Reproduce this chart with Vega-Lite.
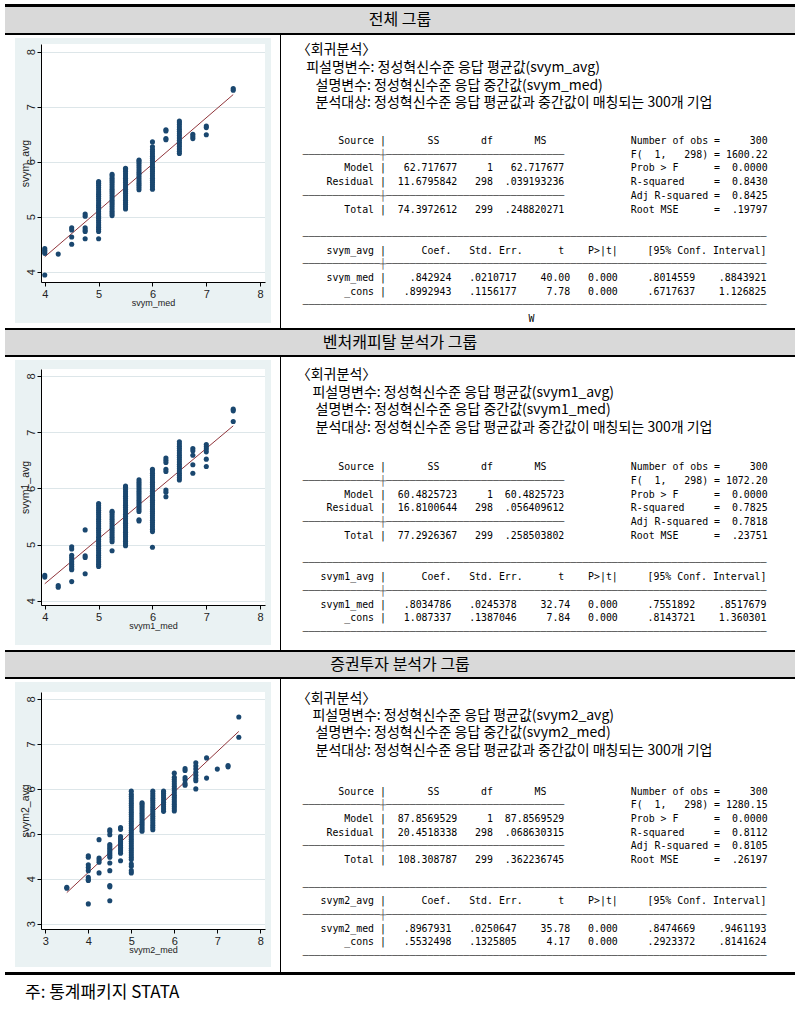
{
"$schema": "https://vega.github.io/schema/vega-lite/v6.json",
"background": "white",
"padding": {"left": 5, "top": 4, "right": 5, "bottom": 5},
"spacing": 0,
"title": {"text": "주: 통계패키지 STATA", "orient": "bottom", "anchor": "start", "offset": 10, "dx": 20, "font": "Noto Sans CJK KR", "fontSize": 17, "fontWeight": "normal", "color": "#000000"},
"config": {
  "view": {"stroke": null},
  "concat": {"spacing": 0},
  "axis": {"labelFont": "Liberation Sans", "titleFont": "Liberation Sans", "titleFontWeight": "normal", "domainColor": "#000000", "tickColor": "#000000", "labelColor": "#222222", "titleColor": "#222222", "labelFlush": false, "grid": false}
},
"datasets": {
  "pts": [
    {"s":1,"x":4,"y":4.42},{"s":1,"x":4,"y":4.39},{"s":1,"x":4,"y":4.36},{"s":1,"x":4,"y":4.33},{"s":1,"x":4,"y":3.94},
    {"s":1,"x":4.25,"y":4.32},
    {"s":1,"x":4.5,"y":4.80},{"s":1,"x":4.5,"y":4.76},{"s":1,"x":4.5,"y":4.63},{"s":1,"x":4.5,"y":4.50},
    {"s":1,"x":4.75,"y":5.05},{"s":1,"x":4.75,"y":5.01},{"s":1,"x":4.75,"y":4.80},{"s":1,"x":4.75,"y":4.76},{"s":1,"x":4.75,"y":4.73},{"s":1,"x":4.75,"y":4.60},
    {"s":1,"x":5,"y":4.60},{"s":1,"x":5,"y":4.73},{"s":1,"x":5,"y":4.77},{"s":1,"x":5,"y":4.81},{"s":1,"x":5,"y":4.85},{"s":1,"x":5,"y":4.89},{"s":1,"x":5,"y":4.93},{"s":1,"x":5,"y":4.97},{"s":1,"x":5,"y":5.01},{"s":1,"x":5,"y":5.05},{"s":1,"x":5,"y":5.09},{"s":1,"x":5,"y":5.13},{"s":1,"x":5,"y":5.17},{"s":1,"x":5,"y":5.21},{"s":1,"x":5,"y":5.25},{"s":1,"x":5,"y":5.29},{"s":1,"x":5,"y":5.33},{"s":1,"x":5,"y":5.37},{"s":1,"x":5,"y":5.41},{"s":1,"x":5,"y":5.45},{"s":1,"x":5,"y":5.49},{"s":1,"x":5,"y":5.53},{"s":1,"x":5,"y":5.57},{"s":1,"x":5,"y":5.61},{"s":1,"x":5,"y":5.64},
    {"s":1,"x":5.25,"y":5.02},{"s":1,"x":5.25,"y":5.06},{"s":1,"x":5.25,"y":5.10},{"s":1,"x":5.25,"y":5.14},{"s":1,"x":5.25,"y":5.18},{"s":1,"x":5.25,"y":5.22},{"s":1,"x":5.25,"y":5.26},{"s":1,"x":5.25,"y":5.30},{"s":1,"x":5.25,"y":5.34},{"s":1,"x":5.25,"y":5.38},{"s":1,"x":5.25,"y":5.42},{"s":1,"x":5.25,"y":5.46},{"s":1,"x":5.25,"y":5.50},{"s":1,"x":5.25,"y":5.54},{"s":1,"x":5.25,"y":5.58},{"s":1,"x":5.25,"y":5.62},{"s":1,"x":5.25,"y":5.66},{"s":1,"x":5.25,"y":5.70},{"s":1,"x":5.25,"y":5.74},{"s":1,"x":5.25,"y":5.77},
    {"s":1,"x":5.5,"y":5.14},{"s":1,"x":5.5,"y":5.18},{"s":1,"x":5.5,"y":5.22},{"s":1,"x":5.5,"y":5.26},{"s":1,"x":5.5,"y":5.30},{"s":1,"x":5.5,"y":5.34},{"s":1,"x":5.5,"y":5.38},{"s":1,"x":5.5,"y":5.42},{"s":1,"x":5.5,"y":5.46},{"s":1,"x":5.5,"y":5.50},{"s":1,"x":5.5,"y":5.54},{"s":1,"x":5.5,"y":5.58},{"s":1,"x":5.5,"y":5.62},{"s":1,"x":5.5,"y":5.66},{"s":1,"x":5.5,"y":5.70},{"s":1,"x":5.5,"y":5.74},{"s":1,"x":5.5,"y":5.78},{"s":1,"x":5.5,"y":5.82},{"s":1,"x":5.5,"y":5.86},{"s":1,"x":5.5,"y":5.88},
    {"s":1,"x":5.75,"y":5.49},{"s":1,"x":5.75,"y":5.53},{"s":1,"x":5.75,"y":5.57},{"s":1,"x":5.75,"y":5.61},{"s":1,"x":5.75,"y":5.65},{"s":1,"x":5.75,"y":5.69},{"s":1,"x":5.75,"y":5.73},{"s":1,"x":5.75,"y":5.77},{"s":1,"x":5.75,"y":5.81},{"s":1,"x":5.75,"y":5.85},{"s":1,"x":5.75,"y":5.89},{"s":1,"x":5.75,"y":5.93},{"s":1,"x":5.75,"y":5.97},{"s":1,"x":5.75,"y":6.01},{"s":1,"x":5.75,"y":6.03},
    {"s":1,"x":6,"y":5.50},{"s":1,"x":6,"y":5.54},{"s":1,"x":6,"y":5.58},{"s":1,"x":6,"y":5.62},{"s":1,"x":6,"y":5.66},{"s":1,"x":6,"y":5.70},{"s":1,"x":6,"y":5.74},{"s":1,"x":6,"y":5.78},{"s":1,"x":6,"y":5.82},{"s":1,"x":6,"y":5.86},{"s":1,"x":6,"y":5.90},{"s":1,"x":6,"y":5.94},{"s":1,"x":6,"y":5.98},{"s":1,"x":6,"y":6.02},{"s":1,"x":6,"y":6.06},{"s":1,"x":6,"y":6.10},{"s":1,"x":6,"y":6.14},{"s":1,"x":6,"y":6.18},{"s":1,"x":6,"y":6.22},{"s":1,"x":6,"y":6.27},{"s":1,"x":6,"y":6.36},
    {"s":1,"x":6.25,"y":6.58},{"s":1,"x":6.25,"y":6.56},{"s":1,"x":6.25,"y":6.42},{"s":1,"x":6.25,"y":6.40},
    {"s":1,"x":6.5,"y":6.15},{"s":1,"x":6.5,"y":6.19},{"s":1,"x":6.5,"y":6.23},{"s":1,"x":6.5,"y":6.27},{"s":1,"x":6.5,"y":6.31},{"s":1,"x":6.5,"y":6.35},{"s":1,"x":6.5,"y":6.39},{"s":1,"x":6.5,"y":6.43},{"s":1,"x":6.5,"y":6.47},{"s":1,"x":6.5,"y":6.51},{"s":1,"x":6.5,"y":6.55},{"s":1,"x":6.5,"y":6.59},{"s":1,"x":6.5,"y":6.63},{"s":1,"x":6.5,"y":6.67},{"s":1,"x":6.5,"y":6.71},{"s":1,"x":6.5,"y":6.74},
    {"s":1,"x":6.75,"y":6.50},{"s":1,"x":6.75,"y":6.46},{"s":1,"x":6.75,"y":6.42},
    {"s":1,"x":7,"y":6.65},{"s":1,"x":7,"y":6.62},{"s":1,"x":7,"y":6.49},
    {"s":1,"x":7.5,"y":7.33},{"s":1,"x":7.5,"y":7.30},

    {"s":2,"x":4,"y":4.45},{"s":2,"x":4,"y":4.42},
    {"s":2,"x":4.25,"y":4.27},{"s":2,"x":4.25,"y":4.24},
    {"s":2,"x":4.5,"y":4.96},{"s":2,"x":4.5,"y":4.92},{"s":2,"x":4.5,"y":4.81},{"s":2,"x":4.5,"y":4.77},{"s":2,"x":4.5,"y":4.73},{"s":2,"x":4.5,"y":4.69},{"s":2,"x":4.5,"y":4.65},{"s":2,"x":4.5,"y":4.61},{"s":2,"x":4.5,"y":4.57},{"s":2,"x":4.5,"y":4.55},{"s":2,"x":4.5,"y":4.34},
    {"s":2,"x":4.75,"y":5.26},{"s":2,"x":4.75,"y":4.80},{"s":2,"x":4.75,"y":4.77},{"s":2,"x":4.75,"y":4.48},
    {"s":2,"x":5,"y":4.61},{"s":2,"x":5,"y":4.65},{"s":2,"x":5,"y":4.69},{"s":2,"x":5,"y":4.73},{"s":2,"x":5,"y":4.77},{"s":2,"x":5,"y":4.81},{"s":2,"x":5,"y":4.85},{"s":2,"x":5,"y":4.89},{"s":2,"x":5,"y":4.93},{"s":2,"x":5,"y":4.97},{"s":2,"x":5,"y":5.01},{"s":2,"x":5,"y":5.05},{"s":2,"x":5,"y":5.09},{"s":2,"x":5,"y":5.13},{"s":2,"x":5,"y":5.17},{"s":2,"x":5,"y":5.21},{"s":2,"x":5,"y":5.25},{"s":2,"x":5,"y":5.29},{"s":2,"x":5,"y":5.33},{"s":2,"x":5,"y":5.37},{"s":2,"x":5,"y":5.41},{"s":2,"x":5,"y":5.45},{"s":2,"x":5,"y":5.49},{"s":2,"x":5,"y":5.53},{"s":2,"x":5,"y":5.57},{"s":2,"x":5,"y":5.61},{"s":2,"x":5,"y":5.65},{"s":2,"x":5,"y":5.69},{"s":2,"x":5,"y":5.73},
    {"s":2,"x":5.25,"y":4.89},{"s":2,"x":5.25,"y":5.05},{"s":2,"x":5.25,"y":5.09},{"s":2,"x":5.25,"y":5.13},{"s":2,"x":5.25,"y":5.17},{"s":2,"x":5.25,"y":5.21},{"s":2,"x":5.25,"y":5.25},{"s":2,"x":5.25,"y":5.29},{"s":2,"x":5.25,"y":5.33},{"s":2,"x":5.25,"y":5.37},{"s":2,"x":5.25,"y":5.41},{"s":2,"x":5.25,"y":5.45},{"s":2,"x":5.25,"y":5.49},{"s":2,"x":5.25,"y":5.53},{"s":2,"x":5.25,"y":5.57},{"s":2,"x":5.25,"y":5.59},
    {"s":2,"x":5.5,"y":4.98},{"s":2,"x":5.5,"y":5.02},{"s":2,"x":5.5,"y":5.06},{"s":2,"x":5.5,"y":5.10},{"s":2,"x":5.5,"y":5.14},{"s":2,"x":5.5,"y":5.18},{"s":2,"x":5.5,"y":5.22},{"s":2,"x":5.5,"y":5.26},{"s":2,"x":5.5,"y":5.30},{"s":2,"x":5.5,"y":5.34},{"s":2,"x":5.5,"y":5.38},{"s":2,"x":5.5,"y":5.42},{"s":2,"x":5.5,"y":5.46},{"s":2,"x":5.5,"y":5.50},{"s":2,"x":5.5,"y":5.54},{"s":2,"x":5.5,"y":5.58},{"s":2,"x":5.5,"y":5.62},{"s":2,"x":5.5,"y":5.66},{"s":2,"x":5.5,"y":5.70},{"s":2,"x":5.5,"y":5.74},{"s":2,"x":5.5,"y":5.78},{"s":2,"x":5.5,"y":5.82},{"s":2,"x":5.5,"y":5.86},{"s":2,"x":5.5,"y":5.90},{"s":2,"x":5.5,"y":5.94},{"s":2,"x":5.5,"y":5.98},{"s":2,"x":5.5,"y":6.02},{"s":2,"x":5.5,"y":6.04},
    {"s":2,"x":5.75,"y":5.42},{"s":2,"x":5.75,"y":5.44},{"s":2,"x":5.75,"y":5.59},{"s":2,"x":5.75,"y":5.63},{"s":2,"x":5.75,"y":5.67},{"s":2,"x":5.75,"y":5.71},{"s":2,"x":5.75,"y":5.75},{"s":2,"x":5.75,"y":5.79},{"s":2,"x":5.75,"y":5.83},{"s":2,"x":5.75,"y":5.87},{"s":2,"x":5.75,"y":5.91},{"s":2,"x":5.75,"y":5.95},{"s":2,"x":5.75,"y":5.99},{"s":2,"x":5.75,"y":6.03},{"s":2,"x":5.75,"y":6.07},{"s":2,"x":5.75,"y":6.11},{"s":2,"x":5.75,"y":6.15},
    {"s":2,"x":6,"y":4.95},{"s":2,"x":6,"y":5.23},{"s":2,"x":6,"y":5.27},{"s":2,"x":6,"y":5.31},{"s":2,"x":6,"y":5.35},{"s":2,"x":6,"y":5.39},{"s":2,"x":6,"y":5.43},{"s":2,"x":6,"y":5.47},{"s":2,"x":6,"y":5.51},{"s":2,"x":6,"y":5.55},{"s":2,"x":6,"y":5.59},{"s":2,"x":6,"y":5.63},{"s":2,"x":6,"y":5.67},{"s":2,"x":6,"y":5.71},{"s":2,"x":6,"y":5.75},{"s":2,"x":6,"y":5.79},{"s":2,"x":6,"y":5.83},{"s":2,"x":6,"y":5.87},{"s":2,"x":6,"y":5.91},{"s":2,"x":6,"y":5.95},{"s":2,"x":6,"y":5.99},{"s":2,"x":6,"y":6.03},{"s":2,"x":6,"y":6.07},{"s":2,"x":6,"y":6.11},{"s":2,"x":6,"y":6.15},{"s":2,"x":6,"y":6.19},{"s":2,"x":6,"y":6.23},{"s":2,"x":6,"y":6.27},{"s":2,"x":6,"y":6.31},{"s":2,"x":6,"y":6.34},
    {"s":2,"x":6.25,"y":6.54},{"s":2,"x":6.25,"y":6.50},{"s":2,"x":6.25,"y":6.46},{"s":2,"x":6.25,"y":6.34},{"s":2,"x":6.25,"y":6.30},{"s":2,"x":6.25,"y":5.97},{"s":2,"x":6.25,"y":5.93},{"s":2,"x":6.25,"y":5.85},
    {"s":2,"x":6.5,"y":6.15},{"s":2,"x":6.5,"y":6.19},{"s":2,"x":6.5,"y":6.23},{"s":2,"x":6.5,"y":6.27},{"s":2,"x":6.5,"y":6.31},{"s":2,"x":6.5,"y":6.35},{"s":2,"x":6.5,"y":6.39},{"s":2,"x":6.5,"y":6.43},{"s":2,"x":6.5,"y":6.47},{"s":2,"x":6.5,"y":6.51},{"s":2,"x":6.5,"y":6.55},{"s":2,"x":6.5,"y":6.59},{"s":2,"x":6.5,"y":6.63},{"s":2,"x":6.5,"y":6.67},{"s":2,"x":6.5,"y":6.71},{"s":2,"x":6.5,"y":6.75},{"s":2,"x":6.5,"y":6.79},{"s":2,"x":6.5,"y":6.83},
    {"s":2,"x":6.75,"y":6.71},{"s":2,"x":6.75,"y":6.67},{"s":2,"x":6.75,"y":6.59},{"s":2,"x":6.75,"y":6.42},{"s":2,"x":6.75,"y":6.27},
    {"s":2,"x":7,"y":6.78},{"s":2,"x":7,"y":6.74},{"s":2,"x":7,"y":6.70},{"s":2,"x":7,"y":6.65},{"s":2,"x":7,"y":6.52},{"s":2,"x":7,"y":6.39},
    {"s":2,"x":7.5,"y":7.41},{"s":2,"x":7.5,"y":7.38},{"s":2,"x":7.5,"y":7.19},

    {"s":3,"x":3.5,"y":3.81},{"s":3,"x":3.5,"y":3.79},
    {"s":3,"x":4,"y":4.51},{"s":3,"x":4,"y":4.48},{"s":3,"x":4,"y":4.31},{"s":3,"x":4,"y":4.25},{"s":3,"x":4,"y":4.18},{"s":3,"x":4,"y":4.03},{"s":3,"x":4,"y":3.98},{"s":3,"x":4,"y":3.96},{"s":3,"x":4,"y":3.44},
    {"s":3,"x":4.25,"y":4.87},{"s":3,"x":4.25,"y":4.46},{"s":3,"x":4.25,"y":4.42},{"s":3,"x":4.25,"y":4.37},{"s":3,"x":4.25,"y":4.13},
    {"s":3,"x":4.5,"y":5.09},{"s":3,"x":4.5,"y":5.05},{"s":3,"x":4.5,"y":4.98},{"s":3,"x":4.5,"y":4.76},{"s":3,"x":4.5,"y":4.72},{"s":3,"x":4.5,"y":4.68},{"s":3,"x":4.5,"y":4.64},{"s":3,"x":4.5,"y":4.60},{"s":3,"x":4.5,"y":4.56},{"s":3,"x":4.5,"y":4.52},{"s":3,"x":4.5,"y":4.48},{"s":3,"x":4.5,"y":4.35},{"s":3,"x":4.5,"y":4.18},{"s":3,"x":4.5,"y":3.85},{"s":3,"x":4.5,"y":3.82},{"s":3,"x":4.5,"y":3.51},
    {"s":3,"x":4.75,"y":5.14},{"s":3,"x":4.75,"y":5.10},{"s":3,"x":4.75,"y":4.94},{"s":3,"x":4.75,"y":4.90},{"s":3,"x":4.75,"y":4.86},{"s":3,"x":4.75,"y":4.82},{"s":3,"x":4.75,"y":4.78},{"s":3,"x":4.75,"y":4.74},{"s":3,"x":4.75,"y":4.70},{"s":3,"x":4.75,"y":4.66},{"s":3,"x":4.75,"y":4.62},{"s":3,"x":4.75,"y":4.57},{"s":3,"x":4.75,"y":4.40},
    {"s":3,"x":5,"y":4.13},{"s":3,"x":5,"y":4.18},{"s":3,"x":5,"y":4.28},{"s":3,"x":5,"y":4.33},{"s":3,"x":5,"y":4.43},{"s":3,"x":5,"y":4.48},{"s":3,"x":5,"y":4.53},{"s":3,"x":5,"y":4.58},{"s":3,"x":5,"y":4.63},{"s":3,"x":5,"y":4.68},{"s":3,"x":5,"y":4.73},{"s":3,"x":5,"y":4.78},{"s":3,"x":5,"y":4.83},{"s":3,"x":5,"y":4.88},{"s":3,"x":5,"y":4.93},{"s":3,"x":5,"y":4.98},{"s":3,"x":5,"y":5.03},{"s":3,"x":5,"y":5.08},{"s":3,"x":5,"y":5.13},{"s":3,"x":5,"y":5.18},{"s":3,"x":5,"y":5.23},{"s":3,"x":5,"y":5.28},{"s":3,"x":5,"y":5.33},{"s":3,"x":5,"y":5.38},{"s":3,"x":5,"y":5.43},{"s":3,"x":5,"y":5.48},{"s":3,"x":5,"y":5.53},{"s":3,"x":5,"y":5.58},{"s":3,"x":5,"y":5.63},{"s":3,"x":5,"y":5.68},{"s":3,"x":5,"y":5.73},{"s":3,"x":5,"y":5.78},{"s":3,"x":5,"y":5.83},{"s":3,"x":5,"y":5.88},{"s":3,"x":5,"y":5.95},
    {"s":3,"x":5.25,"y":5.06},{"s":3,"x":5.25,"y":5.11},{"s":3,"x":5.25,"y":5.16},{"s":3,"x":5.25,"y":5.21},{"s":3,"x":5.25,"y":5.26},{"s":3,"x":5.25,"y":5.31},{"s":3,"x":5.25,"y":5.36},{"s":3,"x":5.25,"y":5.41},{"s":3,"x":5.25,"y":5.46},{"s":3,"x":5.25,"y":5.51},{"s":3,"x":5.25,"y":5.56},{"s":3,"x":5.25,"y":5.61},{"s":3,"x":5.25,"y":5.66},{"s":3,"x":5.25,"y":5.69},
    {"s":3,"x":5.5,"y":5.09},{"s":3,"x":5.5,"y":5.14},{"s":3,"x":5.5,"y":5.19},{"s":3,"x":5.5,"y":5.24},{"s":3,"x":5.5,"y":5.29},{"s":3,"x":5.5,"y":5.34},{"s":3,"x":5.5,"y":5.39},{"s":3,"x":5.5,"y":5.44},{"s":3,"x":5.5,"y":5.49},{"s":3,"x":5.5,"y":5.54},{"s":3,"x":5.5,"y":5.59},{"s":3,"x":5.5,"y":5.64},{"s":3,"x":5.5,"y":5.69},{"s":3,"x":5.5,"y":5.74},{"s":3,"x":5.5,"y":5.79},{"s":3,"x":5.5,"y":5.84},{"s":3,"x":5.5,"y":5.89},{"s":3,"x":5.5,"y":5.95},
    {"s":3,"x":5.75,"y":5.50},{"s":3,"x":5.75,"y":5.55},{"s":3,"x":5.75,"y":5.60},{"s":3,"x":5.75,"y":5.65},{"s":3,"x":5.75,"y":5.70},{"s":3,"x":5.75,"y":5.75},{"s":3,"x":5.75,"y":5.80},{"s":3,"x":5.75,"y":5.85},{"s":3,"x":5.75,"y":5.90},{"s":3,"x":5.75,"y":5.95},
    {"s":3,"x":6,"y":5.51},{"s":3,"x":6,"y":5.56},{"s":3,"x":6,"y":5.61},{"s":3,"x":6,"y":5.66},{"s":3,"x":6,"y":5.71},{"s":3,"x":6,"y":5.76},{"s":3,"x":6,"y":5.81},{"s":3,"x":6,"y":5.86},{"s":3,"x":6,"y":5.91},{"s":3,"x":6,"y":5.96},{"s":3,"x":6,"y":6.01},{"s":3,"x":6,"y":6.06},{"s":3,"x":6,"y":6.11},{"s":3,"x":6,"y":6.16},{"s":3,"x":6,"y":6.21},{"s":3,"x":6,"y":6.26},{"s":3,"x":6,"y":6.35},
    {"s":3,"x":6.25,"y":6.08},{"s":3,"x":6.25,"y":6.12},{"s":3,"x":6.25,"y":6.20},{"s":3,"x":6.25,"y":6.25},{"s":3,"x":6.25,"y":6.41},{"s":3,"x":6.25,"y":6.45},
    {"s":3,"x":6.5,"y":6.00},{"s":3,"x":6.5,"y":6.18},{"s":3,"x":6.5,"y":6.23},{"s":3,"x":6.5,"y":6.30},{"s":3,"x":6.5,"y":6.37},{"s":3,"x":6.5,"y":6.44},{"s":3,"x":6.5,"y":6.51},{"s":3,"x":6.5,"y":6.58},
    {"s":3,"x":6.75,"y":6.69},{"s":3,"x":6.75,"y":6.24},
    {"s":3,"x":7,"y":6.44},
    {"s":3,"x":7.25,"y":6.49},{"s":3,"x":7.25,"y":6.52},
    {"s":3,"x":7.5,"y":7.60},{"s":3,"x":7.5,"y":7.15}
  ],
  "fit": [
    {"s":1,"x":4,"y":4.271},{"s":1,"x":7.5,"y":7.221},
    {"s":2,"x":4,"y":4.301},{"s":2,"x":7.5,"y":7.113},
    {"s":3,"x":3.5,"y":3.692},{"s":3,"x":7.5,"y":7.279}
  ],
  "kor": [
    {"s":1,"line":0,"t":"〈회귀분석〉"},
    {"s":1,"line":1,"t":"\u200b\u00a0\u00a0\u00a0피설명변수: 정성혁신수준 응답 평균값(svym_avg)"},
    {"s":1,"line":2,"t":"\u200b\u00a0\u00a0\u00a0\u00a0\u00a0\u00a0설명변수: 정성혁신수준 응답 중간값(svym_med)"},
    {"s":1,"line":3,"t":"\u200b\u00a0\u00a0\u00a0\u00a0\u00a0\u00a0분석대상: 정성혁신수준 응답 평균값과 중간값이 매칭되는 300개 기업"},
    {"s":2,"line":0,"t":"〈회귀분석〉"},
    {"s":2,"line":1,"t":"\u200b\u00a0\u00a0\u00a0\u00a0\u00a0피설명변수: 정성혁신수준 응답 평균값(svym1_avg)"},
    {"s":2,"line":2,"t":"\u200b\u00a0\u00a0\u00a0\u00a0\u00a0\u00a0설명변수: 정성혁신수준 응답 중간값(svym1_med)"},
    {"s":2,"line":3,"t":"\u200b\u00a0\u00a0\u00a0\u00a0\u00a0\u00a0분석대상: 정성혁신수준 응답 평균값과 중간값이 매칭되는 300개 기업"},
    {"s":3,"line":0,"t":"〈회귀분석〉"},
    {"s":3,"line":1,"t":"\u200b\u00a0\u00a0\u00a0\u00a0\u00a0피설명변수: 정성혁신수준 응답 평균값(svym2_avg)"},
    {"s":3,"line":2,"t":"\u200b\u00a0\u00a0\u00a0\u00a0\u00a0\u00a0설명변수: 정성혁신수준 응답 중간값(svym2_med)"},
    {"s":3,"line":3,"t":"\u200b\u00a0\u00a0\u00a0\u00a0\u00a0\u00a0분석대상: 정성혁신수준 응답 평균값과 중간값이 매칭되는 300개 기업"}
  ],
  "stata": [
    {"s":1,"line":0,"t":"\u200b\u00a0\u00a0\u00a0\u00a0\u00a0\u00a0Source |\u00a0\u00a0\u00a0\u00a0\u00a0\u00a0\u00a0SS\u00a0\u00a0\u00a0\u00a0\u00a0\u00a0\u00a0df\u00a0\u00a0\u00a0\u00a0\u00a0\u00a0\u00a0MS"},
    {"s":1,"line":2,"t":"\u200b\u00a0\u00a0\u00a0\u00a0\u00a0\u00a0\u00a0Model |\u00a0\u00a0\u00a062.717677\u00a0\u00a0\u00a0\u00a0\u00a01\u00a0\u00a0\u00a062.717677"},
    {"s":1,"line":3,"t":"\u200b\u00a0\u00a0\u00a0\u00a0Residual |\u00a0\u00a011.6795842\u00a0\u00a0\u00a0298\u00a0\u00a0.039193236"},
    {"s":1,"line":5,"t":"\u200b\u00a0\u00a0\u00a0\u00a0\u00a0\u00a0\u00a0Total |\u00a0\u00a074.3972612\u00a0\u00a0\u00a0299\u00a0\u00a0.248820271"},
    {"s":1,"line":8,"t":"\u200b\u00a0\u00a0\u00a0\u00a0svym_avg |\u00a0\u00a0\u00a0\u00a0\u00a0\u00a0Coef.\u00a0\u00a0\u00a0Std. Err.\u00a0\u00a0\u00a0\u00a0\u00a0\u00a0t\u00a0\u00a0\u00a0\u00a0P>|t|\u00a0\u00a0\u00a0\u00a0\u00a0[95% Conf. Interval]"},
    {"s":1,"line":10,"t":"\u200b\u00a0\u00a0\u00a0\u00a0svym_med |\u00a0\u00a0\u00a0\u00a0.842924\u00a0\u00a0\u00a0.0210717\u00a0\u00a0\u00a0\u00a040.00\u00a0\u00a0\u00a00.000\u00a0\u00a0\u00a0\u00a0\u00a0.8014559\u00a0\u00a0\u00a0\u00a0.8843921"},
    {"s":1,"line":11,"t":"\u200b\u00a0\u00a0\u00a0\u00a0\u00a0\u00a0\u00a0_cons |\u00a0\u00a0\u00a0.8992943\u00a0\u00a0\u00a0.1156177\u00a0\u00a0\u00a0\u00a0\u00a07.78\u00a0\u00a0\u00a00.000\u00a0\u00a0\u00a0\u00a0\u00a0.6717637\u00a0\u00a0\u00a0\u00a01.126825"},
    {"s":1,"line":13,"t":"\u200b\u00a0\u00a0\u00a0\u00a0\u00a0\u00a0\u00a0\u00a0\u00a0\u00a0\u00a0\u00a0\u00a0\u00a0\u00a0\u00a0\u00a0\u00a0\u00a0\u00a0\u00a0\u00a0\u00a0\u00a0\u00a0\u00a0\u00a0\u00a0\u00a0\u00a0\u00a0\u00a0\u00a0\u00a0\u00a0\u00a0\u00a0\u00a0W"},
    {"s":2,"line":0,"t":"\u200b\u00a0\u00a0\u00a0\u00a0\u00a0\u00a0Source |\u00a0\u00a0\u00a0\u00a0\u00a0\u00a0\u00a0SS\u00a0\u00a0\u00a0\u00a0\u00a0\u00a0\u00a0df\u00a0\u00a0\u00a0\u00a0\u00a0\u00a0\u00a0MS"},
    {"s":2,"line":2,"t":"\u200b\u00a0\u00a0\u00a0\u00a0\u00a0\u00a0\u00a0Model |\u00a0\u00a060.4825723\u00a0\u00a0\u00a0\u00a0\u00a01\u00a0\u00a060.4825723"},
    {"s":2,"line":3,"t":"\u200b\u00a0\u00a0\u00a0\u00a0Residual |\u00a0\u00a016.8100644\u00a0\u00a0\u00a0298\u00a0\u00a0.056409612"},
    {"s":2,"line":5,"t":"\u200b\u00a0\u00a0\u00a0\u00a0\u00a0\u00a0\u00a0Total |\u00a0\u00a077.2926367\u00a0\u00a0\u00a0299\u00a0\u00a0.258503802"},
    {"s":2,"line":8,"t":"\u200b\u00a0\u00a0\u00a0svym1_avg |\u00a0\u00a0\u00a0\u00a0\u00a0\u00a0Coef.\u00a0\u00a0\u00a0Std. Err.\u00a0\u00a0\u00a0\u00a0\u00a0\u00a0t\u00a0\u00a0\u00a0\u00a0P>|t|\u00a0\u00a0\u00a0\u00a0\u00a0[95% Conf. Interval]"},
    {"s":2,"line":10,"t":"\u200b\u00a0\u00a0\u00a0svym1_med |\u00a0\u00a0\u00a0.8034786\u00a0\u00a0\u00a0.0245378\u00a0\u00a0\u00a0\u00a032.74\u00a0\u00a0\u00a00.000\u00a0\u00a0\u00a0\u00a0\u00a0.7551892\u00a0\u00a0\u00a0\u00a0.8517679"},
    {"s":2,"line":11,"t":"\u200b\u00a0\u00a0\u00a0\u00a0\u00a0\u00a0\u00a0_cons |\u00a0\u00a0\u00a01.087337\u00a0\u00a0\u00a0.1387046\u00a0\u00a0\u00a0\u00a0\u00a07.84\u00a0\u00a0\u00a00.000\u00a0\u00a0\u00a0\u00a0\u00a0.8143721\u00a0\u00a0\u00a0\u00a01.360301"},
    {"s":3,"line":0,"t":"\u200b\u00a0\u00a0\u00a0\u00a0\u00a0\u00a0Source |\u00a0\u00a0\u00a0\u00a0\u00a0\u00a0\u00a0SS\u00a0\u00a0\u00a0\u00a0\u00a0\u00a0\u00a0df\u00a0\u00a0\u00a0\u00a0\u00a0\u00a0\u00a0MS"},
    {"s":3,"line":2,"t":"\u200b\u00a0\u00a0\u00a0\u00a0\u00a0\u00a0\u00a0Model |\u00a0\u00a087.8569529\u00a0\u00a0\u00a0\u00a0\u00a01\u00a0\u00a087.8569529"},
    {"s":3,"line":3,"t":"\u200b\u00a0\u00a0\u00a0\u00a0Residual |\u00a0\u00a020.4518338\u00a0\u00a0\u00a0298\u00a0\u00a0.068630315"},
    {"s":3,"line":5,"t":"\u200b\u00a0\u00a0\u00a0\u00a0\u00a0\u00a0\u00a0Total |\u00a0\u00a0108.308787\u00a0\u00a0\u00a0299\u00a0\u00a0.362236745"},
    {"s":3,"line":8,"t":"\u200b\u00a0\u00a0\u00a0svym2_avg |\u00a0\u00a0\u00a0\u00a0\u00a0\u00a0Coef.\u00a0\u00a0\u00a0Std. Err.\u00a0\u00a0\u00a0\u00a0\u00a0\u00a0t\u00a0\u00a0\u00a0\u00a0P>|t|\u00a0\u00a0\u00a0\u00a0\u00a0[95% Conf. Interval]"},
    {"s":3,"line":10,"t":"\u200b\u00a0\u00a0\u00a0svym2_med |\u00a0\u00a0\u00a0.8967931\u00a0\u00a0\u00a0.0250647\u00a0\u00a0\u00a0\u00a035.78\u00a0\u00a0\u00a00.000\u00a0\u00a0\u00a0\u00a0\u00a0.8474669\u00a0\u00a0\u00a0\u00a0.9461193"},
    {"s":3,"line":11,"t":"\u200b\u00a0\u00a0\u00a0\u00a0\u00a0\u00a0\u00a0_cons |\u00a0\u00a0\u00a0.5532498\u00a0\u00a0\u00a0.1325805\u00a0\u00a0\u00a0\u00a0\u00a04.17\u00a0\u00a0\u00a00.000\u00a0\u00a0\u00a0\u00a0\u00a0.2923372\u00a0\u00a0\u00a0\u00a0.8141624"}
  ],
  "stats": [
    {"s":1,"line":0,"t":"Number of obs =\u00a0\u00a0\u00a0\u00a0\u00a0300"},
    {"s":1,"line":1,"t":"F(\u00a0\u00a01,\u00a0\u00a0\u00a0298) = 1600.22"},
    {"s":1,"line":2,"t":"Prob > F\u00a0\u00a0\u00a0\u00a0\u00a0\u00a0=\u00a0\u00a00.0000"},
    {"s":1,"line":3,"t":"R-squared\u00a0\u00a0\u00a0\u00a0\u00a0=\u00a0\u00a00.8430"},
    {"s":1,"line":4,"t":"Adj R-squared =\u00a0\u00a00.8425"},
    {"s":1,"line":5,"t":"Root MSE\u00a0\u00a0\u00a0\u00a0\u00a0\u00a0=\u00a0\u00a0.19797"},
    {"s":2,"line":0,"t":"Number of obs =\u00a0\u00a0\u00a0\u00a0\u00a0300"},
    {"s":2,"line":1,"t":"F(\u00a0\u00a01,\u00a0\u00a0\u00a0298) = 1072.20"},
    {"s":2,"line":2,"t":"Prob > F\u00a0\u00a0\u00a0\u00a0\u00a0\u00a0=\u00a0\u00a00.0000"},
    {"s":2,"line":3,"t":"R-squared\u00a0\u00a0\u00a0\u00a0\u00a0=\u00a0\u00a00.7825"},
    {"s":2,"line":4,"t":"Adj R-squared =\u00a0\u00a00.7818"},
    {"s":2,"line":5,"t":"Root MSE\u00a0\u00a0\u00a0\u00a0\u00a0\u00a0=\u00a0\u00a0.23751"},
    {"s":3,"line":0,"t":"Number of obs =\u00a0\u00a0\u00a0\u00a0\u00a0300"},
    {"s":3,"line":1,"t":"F(\u00a0\u00a01,\u00a0\u00a0\u00a0298) = 1280.15"},
    {"s":3,"line":2,"t":"Prob > F\u00a0\u00a0\u00a0\u00a0\u00a0\u00a0=\u00a0\u00a00.0000"},
    {"s":3,"line":3,"t":"R-squared\u00a0\u00a0\u00a0\u00a0\u00a0=\u00a0\u00a00.8112"},
    {"s":3,"line":4,"t":"Adj R-squared =\u00a0\u00a00.8105"},
    {"s":3,"line":5,"t":"Root MSE\u00a0\u00a0\u00a0\u00a0\u00a0\u00a0=\u00a0\u00a0.26197"}
  ],
  "seps": [
    {"line":1,"t":"─────────────┼──────────────────────────────"},
    {"line":4,"t":"─────────────┼──────────────────────────────"},
    {"line":7,"t":"──────────────────────────────────────────────────────────────────────────────"},
    {"line":9,"t":"─────────────┼────────────────────────────────────────────────────────────────"},
    {"line":12,"t":"──────────────────────────────────────────────────────────────────────────────"}
  ]
},
"vconcat": [
  {"width": 790, "height": 3, "view": {"fill": "#000000", "stroke": null}, "data": {"values": [{"t": ""}]}, "mark": {"type": "text", "fontSize": 0}, "encoding": {"text": {"field": "t"}}},
  {"width": 790, "height": 26, "view": {"fill": "#d9d9d9", "stroke": null}, "data": {"values": [{"t": "전체 그룹"}]}, "mark": {"type": "text", "font": "Noto Sans CJK KR", "fontSize": 16, "color": "#000000", "baseline": "middle"}, "encoding": {"text": {"field": "t"}}},
  {"width": 790, "height": 2, "view": {"fill": "#000000", "stroke": null}, "data": {"values": [{"t": ""}]}, "mark": {"type": "text", "fontSize": 0}, "encoding": {"text": {"field": "t"}}},
  {"spacing": 0, "hconcat": [
    {"width": 275, "height": 293, "view": {"fill": "#ffffff", "stroke": null},
     "resolve": {"axis": {"y": "independent"}},
     "layer": [
      {"data": {"values": [{}]}, "mark": {"type": "rect", "color": "#eaf2f3"},
       "encoding": {
         "x": {"datum": 3.447, "type": "quantitative", "scale": {"domain": [3.93, 8.09], "range": [36, 260], "nice": false, "zero": false},
               "axis": {"orient": "bottom", "offset": -46, "values": [4,5,6,7,8], "tickSize": 4, "labelFontSize": 11, "labelPadding": 2, "labelAngle": 0, "title": "svym_med", "titleFontSize": 9, "titlePadding": -1, "zindex": 1}},
         "x2": {"datum": 3.93},
         "y": {"datum": 3.0676, "type": "quantitative", "scale": {"domain": [3.813, 8.14], "range": [247, 9], "nice": false, "zero": false},
               "axis": {"orient": "left", "offset": -36, "grid": true, "gridColor": "#dde6e9", "labels": false, "ticks": false, "domain": false, "title": null, "values": [4,5,6,7,8], "zindex": 0}},
         "y2": {"datum": 8.249}}},
      {"data": {"values": [{}]}, "mark": {"type": "rect", "color": "#eaf2f3"},
       "encoding": {"x": {"datum": 8.09, "type": "quantitative", "axis": {"orient": "bottom", "offset": -46, "values": [4,5,6,7,8], "tickSize": 4, "labelFontSize": 11, "labelPadding": 2, "labelAngle": 0, "title": "svym_med", "titleFontSize": 9, "titlePadding": -1, "zindex": 1}}, "x2": {"datum": 8.201}, "y": {"datum": 3.0676, "type": "quantitative", "axis": null}, "y2": {"datum": 8.249}}},
      {"data": {"values": [{}]}, "mark": {"type": "rect", "color": "#eaf2f3"},
       "encoding": {"x": {"datum": 3.93, "type": "quantitative", "axis": {"orient": "bottom", "offset": -46, "values": [4,5,6,7,8], "tickSize": 4, "labelFontSize": 11, "labelPadding": 2, "labelAngle": 0, "title": "svym_med", "titleFontSize": 9, "titlePadding": -1, "zindex": 1}}, "x2": {"datum": 8.09}, "y": {"datum": 8.14, "type": "quantitative", "axis": null}, "y2": {"datum": 8.249}}},
      {"data": {"values": [{}]}, "mark": {"type": "rect", "color": "#eaf2f3"},
       "encoding": {"x": {"datum": 3.93, "type": "quantitative", "axis": {"orient": "bottom", "offset": -46, "values": [4,5,6,7,8], "tickSize": 4, "labelFontSize": 11, "labelPadding": 2, "labelAngle": 0, "title": "svym_med", "titleFontSize": 9, "titlePadding": -1, "zindex": 1}}, "x2": {"datum": 8.09}, "y": {"datum": 3.0676, "type": "quantitative", "axis": null}, "y2": {"datum": 3.813}}},
      {"data": {"name": "fit"}, "transform": [{"filter": "datum.s == 1"}], "mark": {"type": "line", "color": "#90353b", "strokeWidth": 1},
       "encoding": {"x": {"field": "x", "type": "quantitative", "axis": {"orient": "bottom", "offset": -46, "values": [4,5,6,7,8], "tickSize": 4, "labelFontSize": 11, "labelPadding": 2, "labelAngle": 0, "title": "svym_med", "titleFontSize": 9, "titlePadding": -1, "zindex": 1}}, "y": {"field": "y", "type": "quantitative", "axis": null}}},
      {"data": {"name": "pts"}, "transform": [{"filter": "datum.s == 1"}], "mark": {"type": "circle", "size": 26, "color": "#1a476f", "opacity": 1},
       "encoding": {
         "x": {"field": "x", "type": "quantitative", "axis": {"orient": "bottom", "offset": -46, "values": [4,5,6,7,8], "tickSize": 4, "labelFontSize": 11, "labelPadding": 2, "labelAngle": 0, "title": "svym_med", "titleFontSize": 9, "titlePadding": -1, "zindex": 1}},
         "y": {"field": "y", "type": "quantitative", "axis": {"orient": "left", "offset": -36, "values": [4,5,6,7,8], "tickSize": 4, "labelFontSize": 11, "labelPadding": 1, "labelAngle": 270, "title": "svym_avg", "titleFontSize": 10.5, "titlePadding": -5, "zindex": 1}}}}
     ]},
    {"width": 1, "height": 293, "view": {"fill": "#000000", "stroke": null}, "data": {"values": [{"t": ""}]}, "mark": {"type": "text", "fontSize": 0}, "encoding": {"text": {"field": "t"}}},
    {"width": 514, "height": 293,
     "resolve": {"scale": {"y": "independent"}},
     "layer": [
      {"data": {"name": "kor"}, "transform": [{"filter": "datum.s == 1"}],
       "mark": {"type": "text", "align": "left", "baseline": "middle", "font": "Noto Sans CJK KR", "fontSize": 14, "color": "#000000"},
       "encoding": {"x": {"datum": -1, "type": "quantitative", "scale": {"domain": [-3.641, 82.6], "nice": false, "zero": false}, "axis": null},
                    "y": {"field": "line", "type": "quantitative", "scale": {"domain": [0, 3], "range": [15, 68.3], "nice": false, "zero": false}, "axis": null},
                    "text": {"field": "t", "type": "nominal"}}},
      {"layer": [
        {"data": {"name": "stata"}, "transform": [{"filter": "datum.s == 1"}],
         "mark": {"type": "text", "align": "left", "baseline": "middle", "font": "DejaVu Sans Mono", "fontSize": 9.9, "color": "#000000"},
         "encoding": {"x": {"datum": 0, "type": "quantitative", "axis": null},
                      "y": {"field": "line", "type": "quantitative", "scale": {"domain": [0, 12], "range": [106, 270.4], "nice": false, "zero": false}, "axis": null},
                      "text": {"field": "t", "type": "nominal"}}},
        {"data": {"name": "stats"}, "transform": [{"filter": "datum.s == 1"}],
         "mark": {"type": "text", "align": "right", "baseline": "middle", "font": "DejaVu Sans Mono", "fontSize": 9.9, "color": "#000000"},
         "encoding": {"x": {"datum": 78, "type": "quantitative", "axis": null},
                      "y": {"field": "line", "type": "quantitative", "axis": null},
                      "text": {"field": "t", "type": "nominal"}}},
        {"data": {"name": "seps"},
         "mark": {"type": "text", "align": "left", "baseline": "middle", "font": "DejaVu Sans Mono", "fontSize": 9.9, "color": "#555555"},
         "encoding": {"x": {"datum": 0, "type": "quantitative", "axis": null},
                      "y": {"field": "line", "type": "quantitative", "axis": null},
                      "text": {"field": "t", "type": "nominal"}}}
      ]}
     ]}
  ]},
  {"width": 790, "height": 2, "view": {"fill": "#000000", "stroke": null}, "data": {"values": [{"t": ""}]}, "mark": {"type": "text", "fontSize": 0}, "encoding": {"text": {"field": "t"}}},
  {"width": 790, "height": 25, "view": {"fill": "#d9d9d9", "stroke": null}, "data": {"values": [{"t": "벤처캐피탈 분석가 그룹"}]}, "mark": {"type": "text", "font": "Noto Sans CJK KR", "fontSize": 16, "color": "#000000", "baseline": "middle"}, "encoding": {"text": {"field": "t"}}},
  {"width": 790, "height": 2, "view": {"fill": "#000000", "stroke": null}, "data": {"values": [{"t": ""}]}, "mark": {"type": "text", "fontSize": 0}, "encoding": {"text": {"field": "t"}}},
  {"spacing": 0, "hconcat": [
    {"width": 275, "height": 293, "view": {"fill": "#ffffff", "stroke": null},
     "resolve": {"axis": {"y": "independent"}},
     "layer": [
      {"data": {"values": [{}]}, "mark": {"type": "rect", "color": "#eaf2f3"},
       "encoding": {
         "x": {"datum": 3.447, "type": "quantitative", "scale": {"domain": [3.93, 8.09], "range": [36, 260], "nice": false, "zero": false},
               "axis": {"orient": "bottom", "offset": -45, "values": [4,5,6,7,8], "tickSize": 4, "labelFontSize": 11, "labelPadding": 2, "labelAngle": 0, "title": "svym1_med", "titleFontSize": 9, "titlePadding": -1, "zindex": 1}},
         "x2": {"datum": 3.93},
         "y": {"datum": 3.211, "type": "quantitative", "scale": {"domain": [3.923, 8.125], "range": [248, 12], "nice": false, "zero": false},
               "axis": {"orient": "left", "offset": -36, "grid": true, "gridColor": "#dde6e9", "labels": false, "ticks": false, "domain": false, "title": null, "values": [4,5,6,7,8], "zindex": 0}},
         "y2": {"datum": 8.285}}},
      {"data": {"values": [{}]}, "mark": {"type": "rect", "color": "#eaf2f3"},
       "encoding": {"x": {"datum": 8.09, "type": "quantitative", "axis": {"orient": "bottom", "offset": -45, "values": [4,5,6,7,8], "tickSize": 4, "labelFontSize": 11, "labelPadding": 2, "labelAngle": 0, "title": "svym1_med", "titleFontSize": 9, "titlePadding": -1, "zindex": 1}}, "x2": {"datum": 8.201}, "y": {"datum": 3.211, "type": "quantitative", "axis": null}, "y2": {"datum": 8.285}}},
      {"data": {"values": [{}]}, "mark": {"type": "rect", "color": "#eaf2f3"},
       "encoding": {"x": {"datum": 3.93, "type": "quantitative", "axis": {"orient": "bottom", "offset": -45, "values": [4,5,6,7,8], "tickSize": 4, "labelFontSize": 11, "labelPadding": 2, "labelAngle": 0, "title": "svym1_med", "titleFontSize": 9, "titlePadding": -1, "zindex": 1}}, "x2": {"datum": 8.09}, "y": {"datum": 8.125, "type": "quantitative", "axis": null}, "y2": {"datum": 8.285}}},
      {"data": {"values": [{}]}, "mark": {"type": "rect", "color": "#eaf2f3"},
       "encoding": {"x": {"datum": 3.93, "type": "quantitative", "axis": {"orient": "bottom", "offset": -45, "values": [4,5,6,7,8], "tickSize": 4, "labelFontSize": 11, "labelPadding": 2, "labelAngle": 0, "title": "svym1_med", "titleFontSize": 9, "titlePadding": -1, "zindex": 1}}, "x2": {"datum": 8.09}, "y": {"datum": 3.211, "type": "quantitative", "axis": null}, "y2": {"datum": 3.923}}},
      {"data": {"name": "fit"}, "transform": [{"filter": "datum.s == 2"}], "mark": {"type": "line", "color": "#90353b", "strokeWidth": 1},
       "encoding": {"x": {"field": "x", "type": "quantitative", "axis": {"orient": "bottom", "offset": -45, "values": [4,5,6,7,8], "tickSize": 4, "labelFontSize": 11, "labelPadding": 2, "labelAngle": 0, "title": "svym1_med", "titleFontSize": 9, "titlePadding": -1, "zindex": 1}}, "y": {"field": "y", "type": "quantitative", "axis": null}}},
      {"data": {"name": "pts"}, "transform": [{"filter": "datum.s == 2"}], "mark": {"type": "circle", "size": 26, "color": "#1a476f", "opacity": 1},
       "encoding": {
         "x": {"field": "x", "type": "quantitative", "axis": {"orient": "bottom", "offset": -45, "values": [4,5,6,7,8], "tickSize": 4, "labelFontSize": 11, "labelPadding": 2, "labelAngle": 0, "title": "svym1_med", "titleFontSize": 9, "titlePadding": -1, "zindex": 1}},
         "y": {"field": "y", "type": "quantitative", "axis": {"orient": "left", "offset": -36, "values": [4,5,6,7,8], "tickSize": 4, "labelFontSize": 11, "labelPadding": 1, "labelAngle": 270, "title": "svym1_avg", "titleFontSize": 10.5, "titlePadding": -5, "zindex": 1}}}}
     ]},
    {"width": 1, "height": 293, "view": {"fill": "#000000", "stroke": null}, "data": {"values": [{"t": ""}]}, "mark": {"type": "text", "fontSize": 0}, "encoding": {"text": {"field": "t"}}},
    {"width": 514, "height": 293,
     "resolve": {"scale": {"y": "independent"}},
     "layer": [
      {"data": {"name": "kor"}, "transform": [{"filter": "datum.s == 2"}],
       "mark": {"type": "text", "align": "left", "baseline": "middle", "font": "Noto Sans CJK KR", "fontSize": 14, "color": "#000000"},
       "encoding": {"x": {"datum": -1, "type": "quantitative", "scale": {"domain": [-3.641, 82.6], "nice": false, "zero": false}, "axis": null},
                    "y": {"field": "line", "type": "quantitative", "scale": {"domain": [0, 3], "range": [18, 70.5], "nice": false, "zero": false}, "axis": null},
                    "text": {"field": "t", "type": "nominal"}}},
      {"layer": [
        {"data": {"name": "stata"}, "transform": [{"filter": "datum.s == 2"}],
         "mark": {"type": "text", "align": "left", "baseline": "middle", "font": "DejaVu Sans Mono", "fontSize": 9.9, "color": "#000000"},
         "encoding": {"x": {"datum": 0, "type": "quantitative", "axis": null},
                      "y": {"field": "line", "type": "quantitative", "scale": {"domain": [0, 12], "range": [110.3, 275], "nice": false, "zero": false}, "axis": null},
                      "text": {"field": "t", "type": "nominal"}}},
        {"data": {"name": "stats"}, "transform": [{"filter": "datum.s == 2"}],
         "mark": {"type": "text", "align": "right", "baseline": "middle", "font": "DejaVu Sans Mono", "fontSize": 9.9, "color": "#000000"},
         "encoding": {"x": {"datum": 78, "type": "quantitative", "axis": null},
                      "y": {"field": "line", "type": "quantitative", "axis": null},
                      "text": {"field": "t", "type": "nominal"}}},
        {"data": {"name": "seps"},
         "mark": {"type": "text", "align": "left", "baseline": "middle", "font": "DejaVu Sans Mono", "fontSize": 9.9, "color": "#555555"},
         "encoding": {"x": {"datum": 0, "type": "quantitative", "axis": null},
                      "y": {"field": "line", "type": "quantitative", "axis": null},
                      "text": {"field": "t", "type": "nominal"}}}
      ]}
     ]}
  ]},
  {"width": 790, "height": 2, "view": {"fill": "#000000", "stroke": null}, "data": {"values": [{"t": ""}]}, "mark": {"type": "text", "fontSize": 0}, "encoding": {"text": {"field": "t"}}},
  {"width": 790, "height": 25, "view": {"fill": "#d9d9d9", "stroke": null}, "data": {"values": [{"t": "증권투자 분석가 그룹"}]}, "mark": {"type": "text", "font": "Noto Sans CJK KR", "fontSize": 16, "color": "#000000", "baseline": "middle"}, "encoding": {"text": {"field": "t"}}},
  {"width": 790, "height": 2, "view": {"fill": "#000000", "stroke": null}, "data": {"values": [{"t": ""}]}, "mark": {"type": "text", "fontSize": 0}, "encoding": {"text": {"field": "t"}}},
  {"spacing": 0, "hconcat": [
    {"width": 275, "height": 293, "view": {"fill": "#ffffff", "stroke": null},
     "resolve": {"axis": {"y": "independent"}},
     "layer": [
      {"data": {"values": [{}]}, "mark": {"type": "rect", "color": "#eaf2f3"},
       "encoding": {
         "x": {"datum": 2.295, "type": "quantitative", "scale": {"domain": [2.9, 8.109], "range": [36, 260], "nice": false, "zero": false},
               "axis": {"orient": "bottom", "offset": -43, "values": [3,4,5,6,7,8], "tickSize": 4, "labelFontSize": 11, "labelPadding": 2, "labelAngle": 0, "title": "svym2_med", "titleFontSize": 9, "titlePadding": -1, "zindex": 1}},
         "x2": {"datum": 2.9},
         "y": {"datum": 2.0364, "type": "quantitative", "scale": {"domain": [2.882, 8.156], "range": [250, 13], "nice": false, "zero": false},
               "axis": {"orient": "left", "offset": -36, "grid": true, "gridColor": "#dde6e9", "labels": false, "ticks": false, "domain": false, "title": null, "values": [3,4,5,6,7,8], "zindex": 0}},
         "y2": {"datum": 8.379}}},
      {"data": {"values": [{}]}, "mark": {"type": "rect", "color": "#eaf2f3"},
       "encoding": {"x": {"datum": 8.109, "type": "quantitative", "axis": {"orient": "bottom", "offset": -43, "values": [3,4,5,6,7,8], "tickSize": 4, "labelFontSize": 11, "labelPadding": 2, "labelAngle": 0, "title": "svym2_med", "titleFontSize": 9, "titlePadding": -1, "zindex": 1}}, "x2": {"datum": 8.249}, "y": {"datum": 2.0364, "type": "quantitative", "axis": null}, "y2": {"datum": 8.379}}},
      {"data": {"values": [{}]}, "mark": {"type": "rect", "color": "#eaf2f3"},
       "encoding": {"x": {"datum": 2.9, "type": "quantitative", "axis": {"orient": "bottom", "offset": -43, "values": [3,4,5,6,7,8], "tickSize": 4, "labelFontSize": 11, "labelPadding": 2, "labelAngle": 0, "title": "svym2_med", "titleFontSize": 9, "titlePadding": -1, "zindex": 1}}, "x2": {"datum": 8.109}, "y": {"datum": 8.156, "type": "quantitative", "axis": null}, "y2": {"datum": 8.379}}},
      {"data": {"values": [{}]}, "mark": {"type": "rect", "color": "#eaf2f3"},
       "encoding": {"x": {"datum": 2.9, "type": "quantitative", "axis": {"orient": "bottom", "offset": -43, "values": [3,4,5,6,7,8], "tickSize": 4, "labelFontSize": 11, "labelPadding": 2, "labelAngle": 0, "title": "svym2_med", "titleFontSize": 9, "titlePadding": -1, "zindex": 1}}, "x2": {"datum": 8.109}, "y": {"datum": 2.0364, "type": "quantitative", "axis": null}, "y2": {"datum": 2.882}}},
      {"data": {"name": "fit"}, "transform": [{"filter": "datum.s == 3"}], "mark": {"type": "line", "color": "#90353b", "strokeWidth": 1},
       "encoding": {"x": {"field": "x", "type": "quantitative", "axis": {"orient": "bottom", "offset": -43, "values": [3,4,5,6,7,8], "tickSize": 4, "labelFontSize": 11, "labelPadding": 2, "labelAngle": 0, "title": "svym2_med", "titleFontSize": 9, "titlePadding": -1, "zindex": 1}}, "y": {"field": "y", "type": "quantitative", "axis": null}}},
      {"data": {"name": "pts"}, "transform": [{"filter": "datum.s == 3"}], "mark": {"type": "circle", "size": 26, "color": "#1a476f", "opacity": 1},
       "encoding": {
         "x": {"field": "x", "type": "quantitative", "axis": {"orient": "bottom", "offset": -43, "values": [3,4,5,6,7,8], "tickSize": 4, "labelFontSize": 11, "labelPadding": 2, "labelAngle": 0, "title": "svym2_med", "titleFontSize": 9, "titlePadding": -1, "zindex": 1}},
         "y": {"field": "y", "type": "quantitative", "axis": {"orient": "left", "offset": -36, "values": [3,4,5,6,7,8], "tickSize": 4, "labelFontSize": 11, "labelPadding": 1, "labelAngle": 270, "title": "svym2_avg", "titleFontSize": 10.5, "titlePadding": -5, "zindex": 1}}}}
     ]},
    {"width": 1, "height": 293, "view": {"fill": "#000000", "stroke": null}, "data": {"values": [{"t": ""}]}, "mark": {"type": "text", "fontSize": 0}, "encoding": {"text": {"field": "t"}}},
    {"width": 514, "height": 293,
     "resolve": {"scale": {"y": "independent"}},
     "layer": [
      {"data": {"name": "kor"}, "transform": [{"filter": "datum.s == 3"}],
       "mark": {"type": "text", "align": "left", "baseline": "middle", "font": "Noto Sans CJK KR", "fontSize": 14, "color": "#000000"},
       "encoding": {"x": {"datum": -1, "type": "quantitative", "scale": {"domain": [-3.641, 82.6], "nice": false, "zero": false}, "axis": null},
                    "y": {"field": "line", "type": "quantitative", "scale": {"domain": [0, 3], "range": [19.5, 71.5], "nice": false, "zero": false}, "axis": null},
                    "text": {"field": "t", "type": "nominal"}}},
      {"layer": [
        {"data": {"name": "stata"}, "transform": [{"filter": "datum.s == 3"}],
         "mark": {"type": "text", "align": "left", "baseline": "middle", "font": "DejaVu Sans Mono", "fontSize": 9.9, "color": "#000000"},
         "encoding": {"x": {"datum": 0, "type": "quantitative", "axis": null},
                      "y": {"field": "line", "type": "quantitative", "scale": {"domain": [0, 12], "range": [112.7, 277], "nice": false, "zero": false}, "axis": null},
                      "text": {"field": "t", "type": "nominal"}}},
        {"data": {"name": "stats"}, "transform": [{"filter": "datum.s == 3"}],
         "mark": {"type": "text", "align": "right", "baseline": "middle", "font": "DejaVu Sans Mono", "fontSize": 9.9, "color": "#000000"},
         "encoding": {"x": {"datum": 78, "type": "quantitative", "axis": null},
                      "y": {"field": "line", "type": "quantitative", "axis": null},
                      "text": {"field": "t", "type": "nominal"}}},
        {"data": {"name": "seps"},
         "mark": {"type": "text", "align": "left", "baseline": "middle", "font": "DejaVu Sans Mono", "fontSize": 9.9, "color": "#555555"},
         "encoding": {"x": {"datum": 0, "type": "quantitative", "axis": null},
                      "y": {"field": "line", "type": "quantitative", "axis": null},
                      "text": {"field": "t", "type": "nominal"}}}
      ]}
     ]}
  ]},
  {"width": 790, "height": 3, "view": {"fill": "#000000", "stroke": null}, "data": {"values": [{"t": ""}]}, "mark": {"type": "text", "fontSize": 0}, "encoding": {"text": {"field": "t"}}}
]
}
